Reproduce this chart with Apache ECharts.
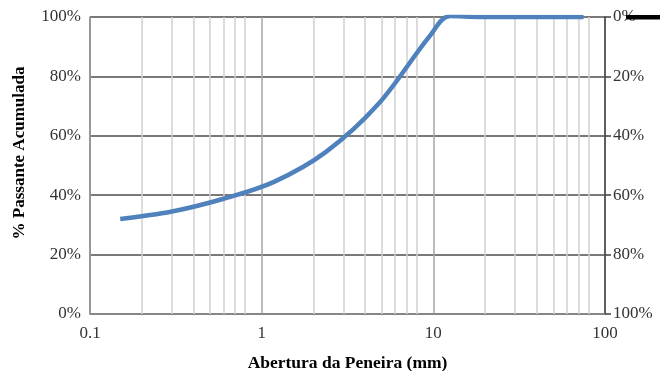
<!DOCTYPE html>
<html>
<head>
<meta charset="utf-8">
<script src="https://cdn.jsdelivr.net/npm/echarts@6/dist/echarts.min.js"></script>
<style>html,body{margin:0;padding:0;background:#fff}#c{width:660px;height:371px}</style>
</head>
<body>
<div id="c"></div>
<script>
// Sieve opening (mm) and cumulative % passing
const sizes = [0.15, 0.3, 0.6, 1.18, 2.36, 4.75, 9.5, 12.5, 19, 25, 37.5, 50, 63, 75];
const passing = [32, 34.5, 38.8, 44.5, 54.5, 70.5, 93.5, 100.3, 100, 100, 100, 100, 100, 100];
const minorGrid = [0.2,0.3,0.4,0.5,0.6,0.7,0.8, 2,3,4,5,6,7,8, 20,30,40,50,60,70,80];

const font = '"Liberation Serif", "Times New Roman", serif';
const chart = echarts.init(document.getElementById('c'), null, {renderer: 'canvas'});
chart.setOption({
  animation: false,
  grid: {left: 90, right: 55, top: 17, bottom: 57, containLabel: false, outerBoundsMode: 'none'},
  xAxis: {
    type: 'log', logBase: 10, min: 0.1, max: 100,
    name: 'Abertura da Peneira (mm)', nameLocation: 'middle', nameGap: 40,
    nameTextStyle: {fontFamily: font, fontSize: 17.5, fontWeight: 'bold', color: '#000'},
    axisLine: {show: true, lineStyle: {color: '#8c8c8c', width: 1.5}},
    axisTick: {show: false},
    axisLabel: {fontFamily: font, fontSize: 17, color: '#333', margin: 11,
      formatter: v => String(v)},
    splitLine: {show: true, lineStyle: {color: '#a6a6a6', width: 1.5}}
  },
  yAxis: [{
    type: 'value', min: 0, max: 100, interval: 20,
    axisLine: {show: true, lineStyle: {color: '#8c8c8c', width: 1.5}},
    axisTick: {show: false},
    axisLabel: {fontFamily: font, fontSize: 17, color: '#333', margin: 9, formatter: v => v + '%'},
    splitLine: {show: true, lineStyle: {color: '#4d4d4d', width: 1.5}}
  }, {
    type: 'value', min: 0, max: 100, interval: 20, inverse: true, position: 'right',
    axisLine: {show: true, lineStyle: {color: '#404040', width: 1.5}},
    axisTick: {show: true, length: 6, inside: false, lineStyle: {color: '#404040', width: 1.5}},
    axisLabel: {fontFamily: font, fontSize: 17, color: '#333', margin: 8, formatter: v => v + '%'},
    splitLine: {show: false}
  }],
  series: [{
    type: 'line', data: sizes.map((s, i) => [s, passing[i]]),
    smooth: 0.35, symbol: 'none',
    lineStyle: {color: '#4f81bd', width: 4.5},
    z: 5,
    markLine: {
      silent: true, symbol: 'none', label: {show: false},
      lineStyle: {color: '#d0d0d0', width: 1.5, type: 'solid'},
      data: minorGrid.map(v => ({xAxis: v})),
      z: 1
    }
  }],
  graphic: [
    {type: 'text', x: 20, y: 153, rotation: Math.PI / 2,
     style: {text: '% Passante Acumulada', font: 'bold 17px ' + font, fill: '#000',
       textAlign: 'center', textVerticalAlign: 'middle'}},
    {type: 'rect', shape: {x: 626, y: 15, width: 34, height: 4.5}, style: {fill: '#000'}, z: 100}
  ]
});
</script>
</body>
</html>
